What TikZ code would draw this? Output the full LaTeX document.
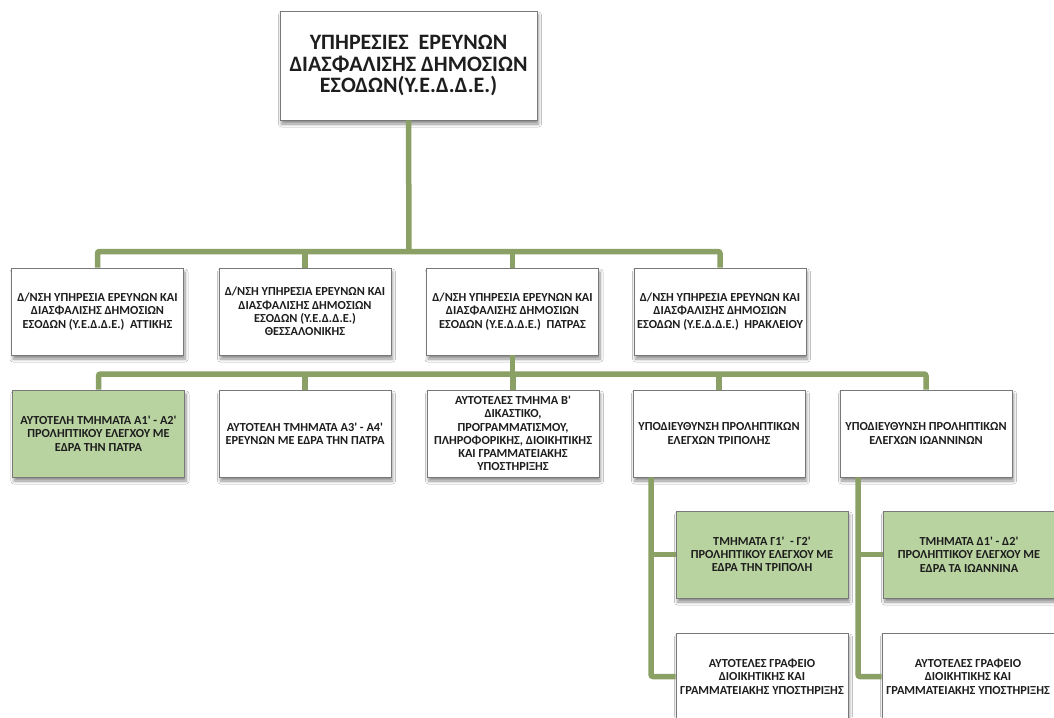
\documentclass[tikz,border=0pt]{standalone}
\usepackage{fontspec}
\setmainfont{Carlito}[Ligatures=TeXOff]
\usetikzlibrary{shadows.blur}
\definecolor{conncol}{RGB}{138,160,100}
\definecolor{greenfill}{RGB}{184,210,160}
\definecolor{bordercol}{RGB}{120,120,120}
\definecolor{txtcol}{RGB}{30,30,30}
\tikzset{
  boxbase/.style={draw=bordercol, line width=0.8pt, fill=white, align=center, inner sep=1pt,
    text=txtcol, blur shadow={shadow xshift=1.5pt, shadow yshift=-4pt, shadow blur steps=6, shadow opacity=45, shadow blur radius=3pt}},
  smallbox/.style={boxbase, minimum width=172pt, minimum height=87pt, font=\fontsize{12.3}{13.3}\selectfont\bfseries},
  greenbox/.style={smallbox, fill=greenfill},
  topbox/.style={boxbase, minimum width=257pt, minimum height=109pt, font=\fontsize{22}{21.7}\selectfont\bfseries},
  conn/.style={draw=conncol, line width=5.5pt, rounded corners=2pt}
}
\begin{document}
\begin{tikzpicture}[x=1pt,y=-1pt]
\useasboundingbox (0,0) rectangle (1054,717);
\fill[white] (0,0) rectangle (1054,717);

\coordinate (bar1) at (409,251.5);
\coordinate (bar2) at (512.5,374);
\coordinate (v1) at (651,0);
\coordinate (v2) at (858,0);

\node[topbox] (top) at (408.5,65.5) {ΥΠΗΡΕΣΙΕΣ\ \ ΕΡΕΥΝΩΝ\\ΔΙΑΣΦΑΛΙΣΗΣ ΔΗΜΟΣΙΩΝ\\ΕΣΟΔΩΝ(Υ.Ε.Δ.Δ.Ε.)};

\node[smallbox] (a1) at (97.5,311.5) {Δ/ΝΣΗ ΥΠΗΡΕΣΙΑ ΕΡΕΥΝΩΝ ΚΑΙ\\ΔΙΑΣΦΑΛΙΣΗΣ ΔΗΜΟΣΙΩΝ\\ΕΣΟΔΩΝ (Υ.Ε.Δ.Δ.Ε.)\ \ ΑΤΤΙΚΗΣ};
\node[smallbox] (a2) at (305,311.5) {Δ/ΝΣΗ ΥΠΗΡΕΣΙΑ ΕΡΕΥΝΩΝ ΚΑΙ\\ΔΙΑΣΦΑΛΙΣΗΣ ΔΗΜΟΣΙΩΝ\\ΕΣΟΔΩΝ (Υ.Ε.Δ.Δ.Ε.)\\ΘΕΣΣΑΛΟΝΙΚΗΣ};
\node[smallbox] (a3) at (512.5,311.5) {Δ/ΝΣΗ ΥΠΗΡΕΣΙΑ ΕΡΕΥΝΩΝ ΚΑΙ\\ΔΙΑΣΦΑΛΙΣΗΣ ΔΗΜΟΣΙΩΝ\\ΕΣΟΔΩΝ (Υ.Ε.Δ.Δ.Ε.)\ \ ΠΑΤΡΑΣ};
\node[smallbox] (a4) at (720,311.5) {Δ/ΝΣΗ ΥΠΗΡΕΣΙΑ ΕΡΕΥΝΩΝ ΚΑΙ\\ΔΙΑΣΦΑΛΙΣΗΣ ΔΗΜΟΣΙΩΝ\\ΕΣΟΔΩΝ (Υ.Ε.Δ.Δ.Ε.)\ \ ΗΡΑΚΛΕΙΟΥ};

\node[greenbox] (b1) at (98.5,433.5) {ΑΥΤΟΤΕΛΗ ΤΜΗΜΑΤΑ Α1' - Α2'\\ΠΡΟΛΗΠΤΙΚΟΥ ΕΛΕΓΧΟΥ ΜΕ\\ΕΔΡΑ ΤΗΝ ΠΑΤΡΑ};
\node[smallbox] (b2) at (305,433.5) {ΑΥΤΟΤΕΛΗ ΤΜΗΜΑΤΑ Α3' - Α4'\\ΕΡΕΥΝΩΝ ΜΕ ΕΔΡΑ ΤΗΝ ΠΑΤΡΑ};
\node[smallbox] (b3) at (513,433.5) {ΑΥΤΟΤΕΛΕΣ ΤΜΗΜΑ Β'\\ΔΙΚΑΣΤΙΚΟ,\\ΠΡΟΓΡΑΜΜΑΤΙΣΜΟΥ,\\ΠΛΗΡΟΦΟΡΙΚΗΣ, ΔΙΟΙΚΗΤΙΚΗΣ\\ΚΑΙ ΓΡΑΜΜΑΤΕΙΑΚΗΣ\\ΥΠΟΣΤΗΡΙΞΗΣ};
\node[smallbox] (b4) at (719,433.5) {ΥΠΟΔΙΕΥΘΥΝΣΗ ΠΡΟΛΗΠΤΙΚΩΝ\\ΕΛΕΓΧΩΝ ΤΡΙΠΟΛΗΣ};
\node[smallbox] (b5) at (926,433.5) {ΥΠΟΔΙΕΥΘΥΝΣΗ ΠΡΟΛΗΠΤΙΚΩΝ\\ΕΛΕΓΧΩΝ ΙΩΑΝΝΙΝΩΝ};

\node[greenbox] (c1) at (762,554.5) {ΤΜΗΜΑΤΑ Γ1'\ \ - Γ2'\\ΠΡΟΛΗΠΤΙΚΟΥ ΕΛΕΓΧΟΥ ΜΕ\\ΕΔΡΑ ΤΗΝ ΤΡΙΠΟΛΗ};
\node[greenbox] (c2) at (969,554.5) {ΤΜΗΜΑΤΑ Δ1' - Δ2'\\ΠΡΟΛΗΠΤΙΚΟΥ ΕΛΕΓΧΟΥ ΜΕ\\ΕΔΡΑ ΤΑ ΙΩΑΝΝΙΝΑ};

\node[smallbox] (d1) at (762,676.5) {ΑΥΤΟΤΕΛΕΣ ΓΡΑΦΕΙΟ\\ΔΙΟΙΚΗΤΙΚΗΣ ΚΑΙ\\ΓΡΑΜΜΑΤΕΙΑΚΗΣ ΥΠΟΣΤΗΡΙΞΗΣ};
\node[smallbox] (d2) at (968,676.5) {ΑΥΤΟΤΕΛΕΣ ΓΡΑΦΕΙΟ\\ΔΙΟΙΚΗΤΙΚΗΣ ΚΑΙ\\ΓΡΑΜΜΑΤΕΙΑΚΗΣ ΥΠΟΣΤΗΡΙΞΗΣ};

\draw[conn] (top.south) -- (bar1);
\draw[conn] (a1.north) |- (bar1) -| (a4.north);
\draw[conn] (a2.north) -- (a2.north |- bar1);
\draw[conn] (a3.north) -- (a3.north |- bar1);

\draw[conn] (a3.south) -- (bar2);
\draw[conn] (b1.north) |- (bar2) -| (b5.north);
\draw[conn] (b2.north) -- (b2.north |- bar2);
\draw[conn] (b4.north) -- (b4.north |- bar2);
\draw[conn] (b3.north) -- (b3.north |- bar2);

\draw[conn] (v1 |- b4.south) |- (d1.west);
\draw[conn] (v1 |- c1.west) -- (c1.west);
\draw[conn] (v2 |- b5.south) |- (d2.west);
\draw[conn] (v2 |- c2.west) -- (c2.west);
\end{tikzpicture}
\end{document}
